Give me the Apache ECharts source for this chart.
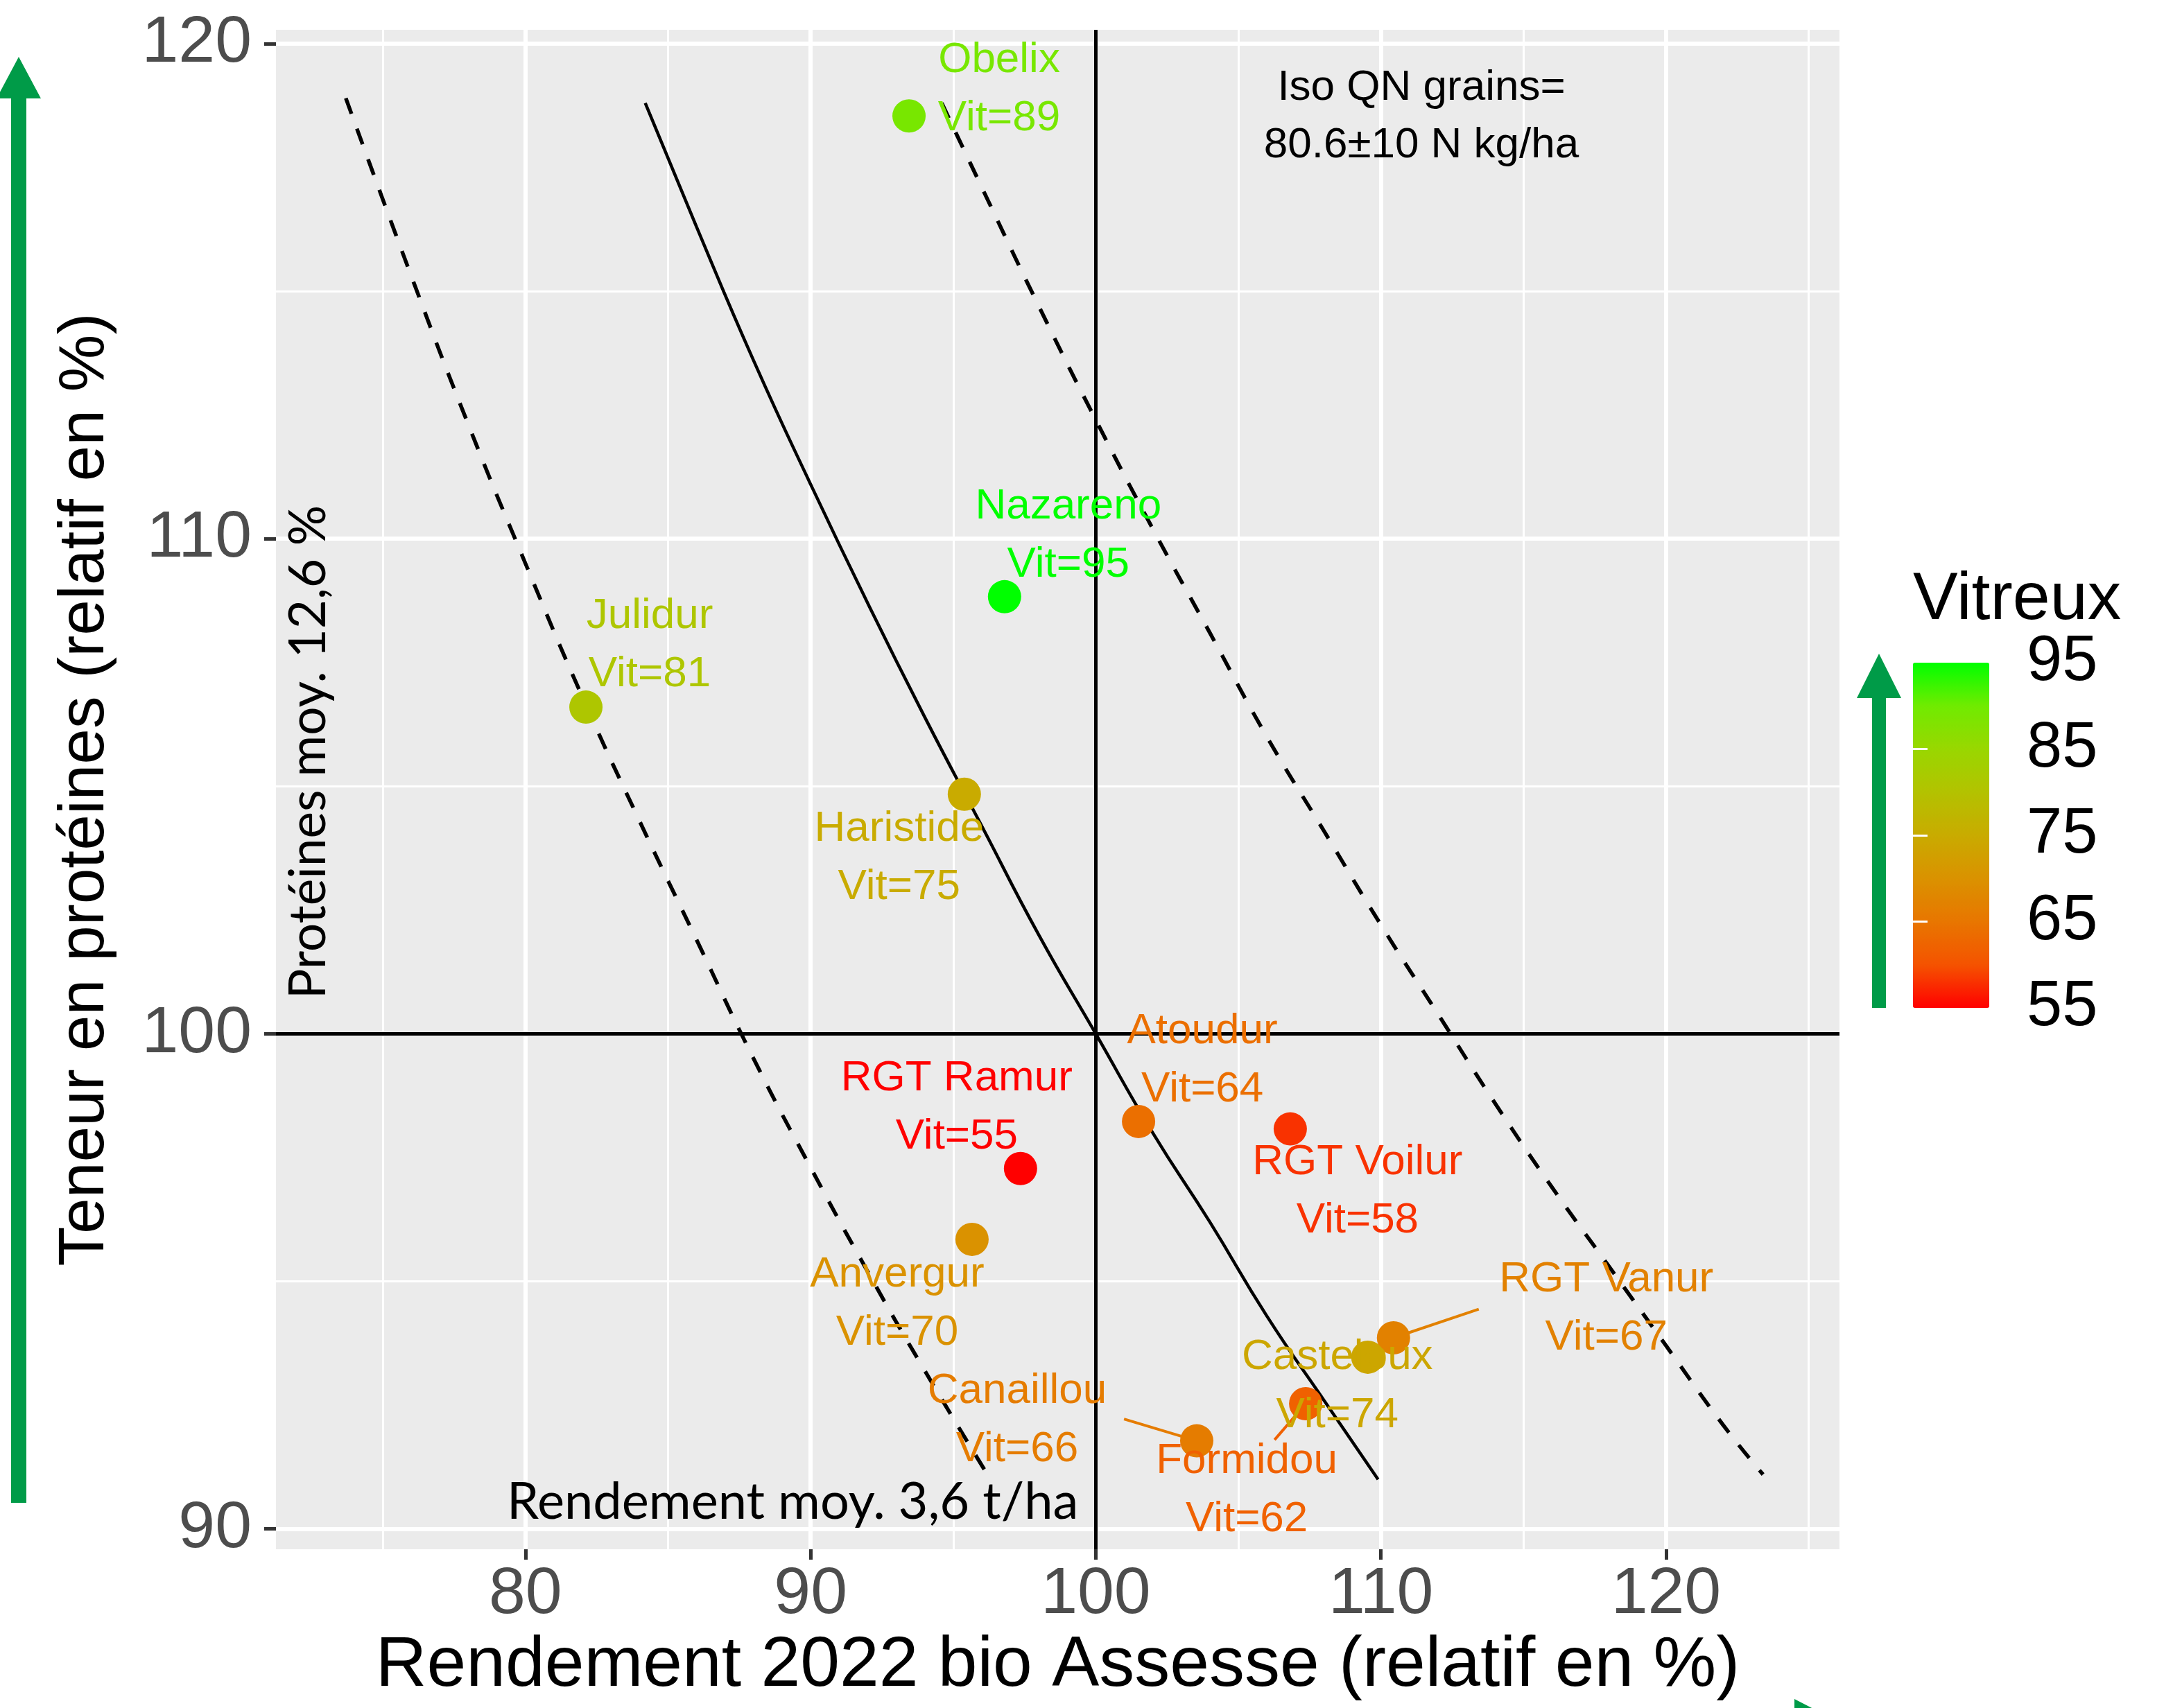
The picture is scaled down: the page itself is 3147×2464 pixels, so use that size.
<!DOCTYPE html>
<html>
<head>
<meta charset="utf-8">
<title>Rendement / protéines blé dur bio 2022</title>
<script src="https://cdn.jsdelivr.net/npm/echarts@6/dist/echarts.min.js"></script>
<style>
html, body { margin: 0; padding: 0; background: #fff; }
#chart { width: 3147px; height: 2464px; }
</style>
</head>
<body>
<div id="chart"></div>
<script>
// varietes et valeurs relatives (% de la moyenne)
var varietes = ['Obelix', 'Nazareno', 'Julidur', 'Haristide', 'Atoudur', 'RGT Voilur', 'RGT Ramur', 'Anvergur', 'RGT Vanur', 'Casteloux', 'Formidou', 'Canaillou'];
var rendement = [93.45, 96.8, 82.12, 95.39, 101.5, 106.82, 97.36, 95.66, 110.44, 109.54, 107.36, 103.54];
var proteines = [118.54, 108.83, 106.6, 104.84, 98.23, 98.08, 97.28, 95.85, 93.86, 93.47, 92.53, 91.78];
var vitreux = [89, 95, 81, 75, 64, 58, 55, 70, 67, 74, 62, 66];

// courbes iso QN grains
var isoMoyX = [84.2, 86, 88, 90, 92, 94, 96, 98, 100, 102, 104, 106, 108, 109.9];
var isoMoyY = [118.8, 116.3, 113.6, 111.1, 108.7, 106.4, 104.2, 102.0, 100.0, 98.0, 96.2, 94.3, 92.6, 91.0];
var isoBasX = [73.7, 76, 78, 80, 82, 84, 86, 88, 90, 92, 94, 96.2];
var isoBasY = [118.9, 115.3, 112.3, 109.5, 106.8, 104.3, 101.9, 99.5, 97.3, 95.2, 93.2, 91.1];
var isoHautX = [94.6, 96, 98, 100, 102, 104, 106, 108, 110, 112, 114, 116, 118, 120, 122, 123.4];
var isoHautY = [118.8, 117.1, 114.7, 112.4, 110.2, 108.1, 106.0, 104.1, 102.2, 100.4, 98.6, 96.9, 95.3, 93.7, 92.1, 91.1];

// traits de rappel des etiquettes deplacees (bout cote etiquette)
var segVarietes = ['RGT Vanur', 'Formidou', 'Canaillou'];
var segEndX = [113.43, 106.27, 100.99];
var segEndY = [94.44, 91.8, 92.22];

var refRendement = 100;
var refProteines = 100;

// axes
var xTicks = [80, 90, 100, 110, 120];
var xMinor = [75, 85, 95, 105, 115, 125];
var yTicks = [90, 100, 110, 120];
var yMinor = [95, 105, 115];
var vitTicks = [55, 65, 75, 85, 95];
var vitInner = [65, 75, 85];
var vitColors = ['#FF0000', '#F55300', '#E87600', '#DA9200', '#C9AB00', '#B3C200', '#99D700', '#70EB00', '#00FF00'];

// decalage des etiquettes (px), facon ggrepel
var labelOffsets = [[130, -38], [92, -88], [92, -89], [-94, 92], [92, -88], [97, 90], [-92, -88], [-108, 93], [307, -42], [-44, 42], [-85, 125], [-259, -30]];

var ggFont = "'Liberation Sans', Arial, sans-serif";
var calFont = "Lato, 'Open Sans', sans-serif";

function zip(a, b) {
	var out = [];
	for (var i = 0; i < a.length; i++) {
		out.push([a[i], b[i]]);
	}
	return out;
}

// meme rampe que le visualMap, pour colorer les traits
function vitColor(v) {
	var t = (v - 55) / 40 * (vitColors.length - 1);
	var k = Math.min(Math.floor(t), vitColors.length - 2);
	var f = t - k;
	var c0 = echarts.color.parse(vitColors[k]);
	var c1 = echarts.color.parse(vitColors[k + 1]);
	var rgb = [];
	for (var j = 0; j < 3; j++) {
		rgb.push(Math.round(c0[j] + (c1[j] - c0[j]) * f));
	}
	return 'rgb(' + rgb.join(',') + ')';
}

var points = [];
for (var i = 0; i < varietes.length; i++) {
	points.push({
		name: varietes[i],
		value: [rendement[i], proteines[i], vitreux[i]],
		label: { offset: labelOffsets[i] }
	});
}

var series = [{
	type: 'line', xAxisIndex: 0, yAxisIndex: 0,
	data: zip(isoMoyX, isoMoyY), smooth: true, showSymbol: false, silent: true,
	lineStyle: { color: '#000000', width: 4.5 },
	markLine: {
		silent: true, symbol: 'none', label: { show: false },
		lineStyle: { color: '#000000', width: 5, type: 'solid' },
		data: [{ xAxis: refRendement }, { yAxis: refProteines }]
	}
}, {
	type: 'line', xAxisIndex: 0, yAxisIndex: 0,
	data: zip(isoBasX, isoBasY), smooth: true, showSymbol: false, silent: true,
	lineStyle: { color: '#000000', width: 5.5, type: [24, 23] }
}, {
	type: 'line', xAxisIndex: 0, yAxisIndex: 0,
	data: zip(isoHautX, isoHautY), smooth: true, showSymbol: false, silent: true,
	lineStyle: { color: '#000000', width: 5.5, type: [24, 23] }
}, {
	type: 'scatter', xAxisIndex: 0, yAxisIndex: 0,
	data: points, symbolSize: 48, z: 5,
	itemStyle: { opacity: 1 },
	label: {
		show: true, position: 'inside', color: 'inherit',
		fontSize: 62, lineHeight: 84, fontFamily: ggFont,
		formatter: function(p) {
			return p.name + '\nVit=' + p.value[2];
		}
	},
	emphasis: { disabled: true }
}];

for (var s = 0; s < segVarietes.length; s++) {
	var idx = varietes.indexOf(segVarietes[s]);
	series.push({
		type: 'line', xAxisIndex: 0, yAxisIndex: 0, silent: true, z: 4,
		data: [[rendement[idx], proteines[idx]], [segEndX[s], segEndY[s]]],
		showSymbol: false,
		lineStyle: { color: vitColor(vitreux[idx]), width: 4 }
	});
}

var myChart = echarts.init(document.getElementById('chart'));
var option = {
	animation: false,
	backgroundColor: '#ffffff',
	grid: [{
		left: 398, top: 43, width: 2255, height: 2192,
		show: true, backgroundColor: '#EBEBEB', borderWidth: 0,
		containLabel: false, outerBoundsMode: 'none'
	}, {
		left: 2759, top: 956, width: 110, height: 498,
		show: false, containLabel: false, outerBoundsMode: 'none'
	}],
	xAxis: [{
		type: 'value', gridIndex: 0, min: 71.25, max: 126.08,
		axisLine: { show: false },
		axisTick: { customValues: xTicks, length: 15, lineStyle: { color: '#333333', width: 5 } },
		axisLabel: { customValues: xTicks, margin: 18, fontSize: 95, color: '#4D4D4D', fontFamily: ggFont },
		splitLine: { show: true, lineStyle: { color: '#ffffff', width: 6 } },
		name: 'Rendement 2022 bio Assesse (relatif en %)',
		nameLocation: 'middle', nameGap: 112,
		nameTextStyle: { fontSize: 102, color: '#000000', fontFamily: ggFont }
	}, {
		type: 'value', gridIndex: 0, min: 71.25, max: 126.08, position: 'bottom',
		axisLine: { show: false },
		axisTick: { show: false, customValues: xMinor },
		axisLabel: { show: false },
		splitLine: { show: true, lineStyle: { color: '#ffffff', width: 3 } }
	}, {
		type: 'value', gridIndex: 1, show: false
	}],
	yAxis: [{
		type: 'value', gridIndex: 0, min: 89.59, max: 120.28,
		axisLine: { show: false },
		axisTick: { customValues: yTicks, length: 17, lineStyle: { color: '#333333', width: 5 } },
		axisLabel: { customValues: yTicks, margin: 35, fontSize: 95, color: '#4D4D4D', fontFamily: ggFont },
		splitLine: { show: true, lineStyle: { color: '#ffffff', width: 6 } },
		name: 'Teneur en protéines (relatif en %)',
		nameLocation: 'middle', nameGap: 228,
		nameTextStyle: { fontSize: 93, color: '#000000', fontFamily: ggFont }
	}, {
		type: 'value', gridIndex: 0, min: 89.59, max: 120.28, position: 'left',
		axisLine: { show: false },
		axisTick: { show: false, customValues: yMinor },
		axisLabel: { show: false },
		splitLine: { show: true, lineStyle: { color: '#ffffff', width: 3 } }
	}, {
		type: 'value', gridIndex: 1, min: 55, max: 95, position: 'right', z: 10,
		axisLine: { show: false },
		axisTick: { inside: true, length: 21, customValues: vitInner, lineStyle: { color: '#ffffff', width: 3 } },
		axisLabel: { customValues: vitTicks, margin: 54, fontSize: 92, color: '#000000', fontFamily: ggFont },
		splitLine: { show: false }
	}, {
		type: 'value', gridIndex: 1, min: 55, max: 95, position: 'left', z: 10,
		axisLine: { show: false },
		axisTick: { inside: true, length: 21, customValues: vitInner, lineStyle: { color: '#ffffff', width: 3 } },
		axisLabel: { show: false },
		splitLine: { show: false }
	}],
	visualMap: {
		type: 'continuous', seriesIndex: 3, dimension: 2,
		min: 55, max: 95, calculable: false, orient: 'vertical',
		left: 2759, top: 956, itemWidth: 110, itemHeight: 498, padding: 0,
		inRange: { color: vitColors }, z: 2
	},
	series: series,
	graphic: [{
		type: 'polygon', silent: true,
		shape: { points: [[27, 82], [59, 142], [38, 142], [38, 2168], [16, 2168], [16, 142], [-5, 142]] },
		style: { fill: '#009B48' }
	}, {
		type: 'polygon', silent: true,
		shape: { points: [[2710, 943], [2742, 1007], [2720, 1007], [2720, 1454], [2700, 1454], [2700, 1007], [2678, 1007]] },
		style: { fill: '#009B48' }
	}, {
		type: 'polygon', silent: true,
		shape: { points: [[2588, 2451], [2650, 2483], [2588, 2515]] },
		style: { fill: '#009B48' }
	}, {
		type: 'text', silent: true, x: 2759, y: 866,
		style: { text: 'Vitreux', fontSize: 97, fontFamily: ggFont, fill: '#000000', align: 'left', verticalAlign: 'middle' }
	}, {
		type: 'text', silent: true, x: 2050, y: 168, z: 20,
		style: { text: 'Iso QN grains=\n80.6±10 N kg/ha', fontSize: 62, lineHeight: 83, fontFamily: ggFont, fill: '#000000', align: 'center', verticalAlign: 'middle' }
	}, {
		type: 'text', silent: true, x: 731, y: 2167, z: 20,
		style: { text: 'Rendement moy. 3,6 t/ha', fontSize: 74, fontFamily: calFont, fill: '#000000', align: 'left', verticalAlign: 'middle' }
	}, {
		type: 'text', silent: true, x: 445, y: 1085, rotation: Math.PI / 2, z: 20,
		style: { text: 'Protéines moy. 12,6 %', fontSize: 73, fontFamily: calFont, fill: '#000000', align: 'center', verticalAlign: 'middle' }
	}]
};
myChart.setOption(option);
</script>
</body>
</html>
